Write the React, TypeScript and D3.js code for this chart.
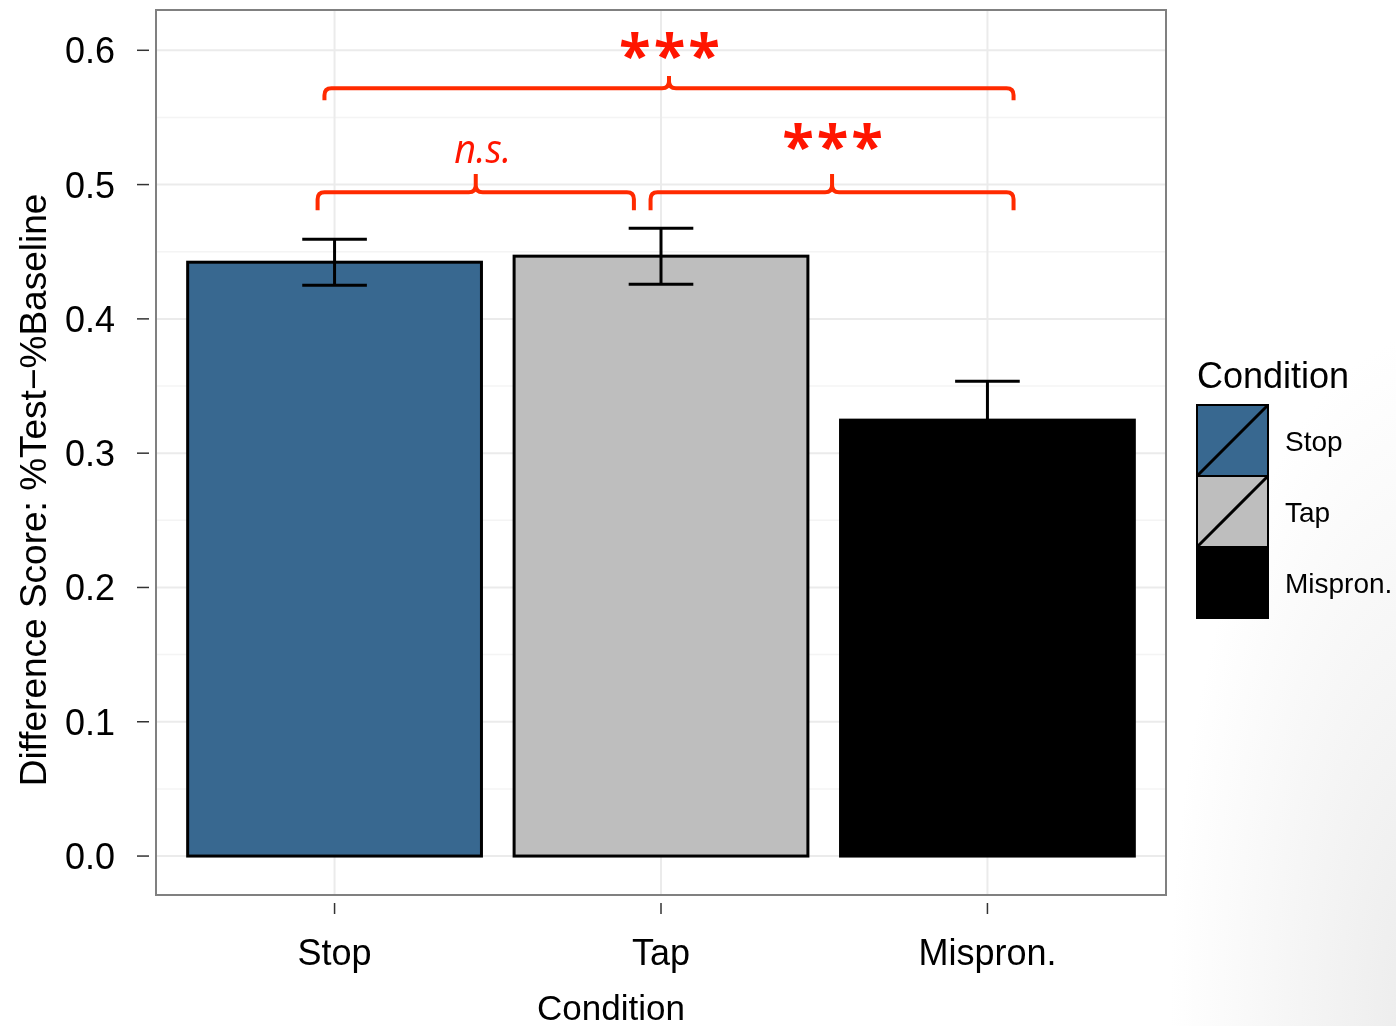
import React from "react";
import * as d3 from "d3";

// chart data
const categories = ["Stop", "Tap", "Mispron."];
const means = [0.4422, 0.4467, 0.3246];
const errLow = [0.4251, 0.4258, 0.2956];
const errHigh = [0.4593, 0.4675, 0.3536];
const fills = ["#386890", "#bebebe", "#000000"];
const yTicks = [0, 0.1, 0.2, 0.3, 0.4, 0.5, 0.6];
const yMinor = [0.05, 0.15, 0.25, 0.35, 0.45, 0.55];

// significance brackets (x in category-index units, y in data units)
const bracketFrom = [-0.031, -0.052, 0.968];
const bracketTo = [2.08, 0.917, 2.08];
const bracketY = [0.5718, 0.4943, 0.4943];
const bracketDrop = [0.009, 0.0135];
const bracketLabels = ["***", "n.s.", "***"];

const W = 1396;
const H = 1026;
const margin = { top: 10, right: 230, bottom: 131, left: 156 };
const RED = "#ff2a00";
const FONT = "'Liberation Sans', Arial, sans-serif";

export default function App() {
  const plotR = W - margin.right;
  const plotB = H - margin.bottom;

  const x = d3.scaleBand<string>()
    .domain(categories)
    .range([margin.left, plotR])
    .paddingInner(0.1)
    .paddingOuter(0.097);

  const y = d3.scaleLinear()
    .domain([-0.029, 0.63])
    .range([plotB, margin.top]);

  const centre = (c: string) => (x(c) as number) + x.bandwidth() / 2;
  // index -> pixel, for brackets that do not sit on a band centre
  const xi = d3.scaleLinear()
    .domain([0, categories.length - 1])
    .range([centre(categories[0]), centre(categories[categories.length - 1])]);

  const whisker = x.bandwidth() * 0.11;

  const bracketPath = (x1: number, x2: number, yv: number, d: number) => {
    const yy = y(yv);
    const drop = y(yv - d) - yy;
    const tip = yy - drop;
    const xm = (x1 + x2) / 2;
    const r = 7;
    return `M${x1},${yy + drop} L${x1},${yy + r} Q${x1},${yy} ${x1 + r},${yy} ` +
      `L${xm - r},${yy} Q${xm},${yy} ${xm},${yy - r} L${xm},${tip} ` +
      `M${xm},${yy - r} Q${xm},${yy} ${xm + r},${yy} L${x2 - r},${yy} ` +
      `Q${x2},${yy} ${x2},${yy + r} L${x2},${yy + drop}`;
  };

  const keySize = 71;
  const legX = 1197;
  const legY = 405;

  return (
    <svg width={W} height={H} style={{ position: "fixed", left: 0, top: 0 }}
      fontFamily={FONT}>
      <defs>
        {/* faint slide shading in the bottom-right corner */}
        <radialGradient id="bg" gradientUnits="userSpaceOnUse" cx={1430} cy={1010} r={260}
          gradientTransform="translate(1430,1010) scale(1,2.6) translate(-1430,-1010)">
          <stop offset="0" stopColor="#ebebeb" />
          <stop offset="0.5" stopColor="#f5f5f5" />
          <stop offset="1" stopColor="#ffffff" />
        </radialGradient>
      </defs>
      <rect width={W} height={H} fill="url(#bg)" />
      <rect x={margin.left} y={margin.top} width={plotR - margin.left}
        height={plotB - margin.top} fill="#ffffff" />

      {/* grid */}
      {yMinor.map(t => (
        <line key={"m" + t} x1={margin.left} x2={plotR} y1={y(t)} y2={y(t)}
          stroke="#f4f4f4" strokeWidth={1.5} />
      ))}
      {yTicks.map(t => (
        <line key={"g" + t} x1={margin.left} x2={plotR} y1={y(t)} y2={y(t)}
          stroke="#ebebeb" strokeWidth={2} />
      ))}
      {categories.map(c => (
        <line key={"v" + c} x1={centre(c)} x2={centre(c)} y1={margin.top} y2={plotB}
          stroke="#ebebeb" strokeWidth={2} />
      ))}

      {/* bars */}
      {categories.map((c, i) => (
        <rect key={"b" + c} x={x(c)} y={y(means[i])} width={x.bandwidth()}
          height={y(0) - y(means[i])} fill={fills[i]} stroke="#000" strokeWidth={3} />
      ))}

      {/* error bars */}
      {categories.map((c, i) => (
        <g key={"e" + c} stroke="#000" strokeWidth={3}>
          <line x1={centre(c)} x2={centre(c)} y1={y(errLow[i])} y2={y(errHigh[i])} />
          <line x1={centre(c) - whisker} x2={centre(c) + whisker} y1={y(errHigh[i])} y2={y(errHigh[i])} />
          <line x1={centre(c) - whisker} x2={centre(c) + whisker} y1={y(errLow[i])} y2={y(errLow[i])} />
        </g>
      ))}

      {/* panel border */}
      <rect x={margin.left} y={margin.top} width={plotR - margin.left}
        height={plotB - margin.top} fill="none" stroke="#808080" strokeWidth={2} />

      {/* y axis */}
      {yTicks.map(t => (
        <g key={"y" + t}>
          <line x1={137} x2={149} y1={y(t)} y2={y(t)} stroke="#333" strokeWidth={1.5} />
          <text x={115} y={y(t)} dy="0.36em" textAnchor="end" fontSize={36} fill="#000">
            {d3.format(".1f")(t)}
          </text>
        </g>
      ))}
      <text transform={`translate(46,490) rotate(-90)`}
        textAnchor="middle" fontSize={37} fill="#000">
        Difference Score: %Test−%Baseline
      </text>

      {/* x axis */}
      {categories.map(c => (
        <g key={"x" + c}>
          <line x1={centre(c)} x2={centre(c)} y1={plotB + 8} y2={plotB + 19}
            stroke="#333" strokeWidth={1.5} />
          <text x={centre(c)} y={965} textAnchor="middle" fontSize={36} fill="#000">{c}</text>
        </g>
      ))}
      <text x={611} y={1020} textAnchor="middle" fontSize={35} fill="#000">Condition</text>

      {/* significance brackets */}
      {bracketFrom.map((f, i) => {
        const x1 = xi(f);
        const x2 = xi(bracketTo[i]);
        const xm = (x1 + x2) / 2;
        const ty = y(bracketY[i]);
        const ns = bracketLabels[i] === "n.s.";
        const d = i === 0 ? bracketDrop[0] : bracketDrop[1];
        return (
          <g key={"br" + i}>
            <path d={bracketPath(x1, x2, bracketY[i], d)} fill="none" stroke={RED}
              strokeWidth={4} strokeLinejoin="round" />
            {ns ? (
              <text x={xm + 7} y={ty - 29} textAnchor="middle" fontSize={40}
                fontStyle="italic" fill="#ff1500" fontFamily="'Open Sans', sans-serif"
                textLength={57} lengthAdjust="spacingAndGlyphs">n.s.</text>
            ) : (
              <text x={xm + 2} y={i === 0 ? ty - 12 : ty - 25} textAnchor="middle" fontSize={58}
                fill="#ff1500" fontFamily="'Open Sans', sans-serif" fontWeight="bold"
                letterSpacing={3}>{bracketLabels[i]}</text>
            )}
          </g>
        );
      })}

      {/* legend */}
      <text x={legX} y={388} fontSize={36} fill="#000">Condition</text>
      {categories.map((c, i) => {
        const ky = legY + i * keySize;
        return (
          <g key={"l" + c}>
            <rect x={legX} y={ky} width={keySize} height={keySize} fill={fills[i]}
              stroke="#000" strokeWidth={2} />
            {i < 2 && (
              <line x1={legX} y1={ky + keySize} x2={legX + keySize} y2={ky}
                stroke="#000" strokeWidth={3} />
            )}
            <text x={1285} y={ky + keySize / 2} dy="0.36em" fontSize={28} fill="#000">{c}</text>
          </g>
        );
      })}
    </svg>
  );
}
